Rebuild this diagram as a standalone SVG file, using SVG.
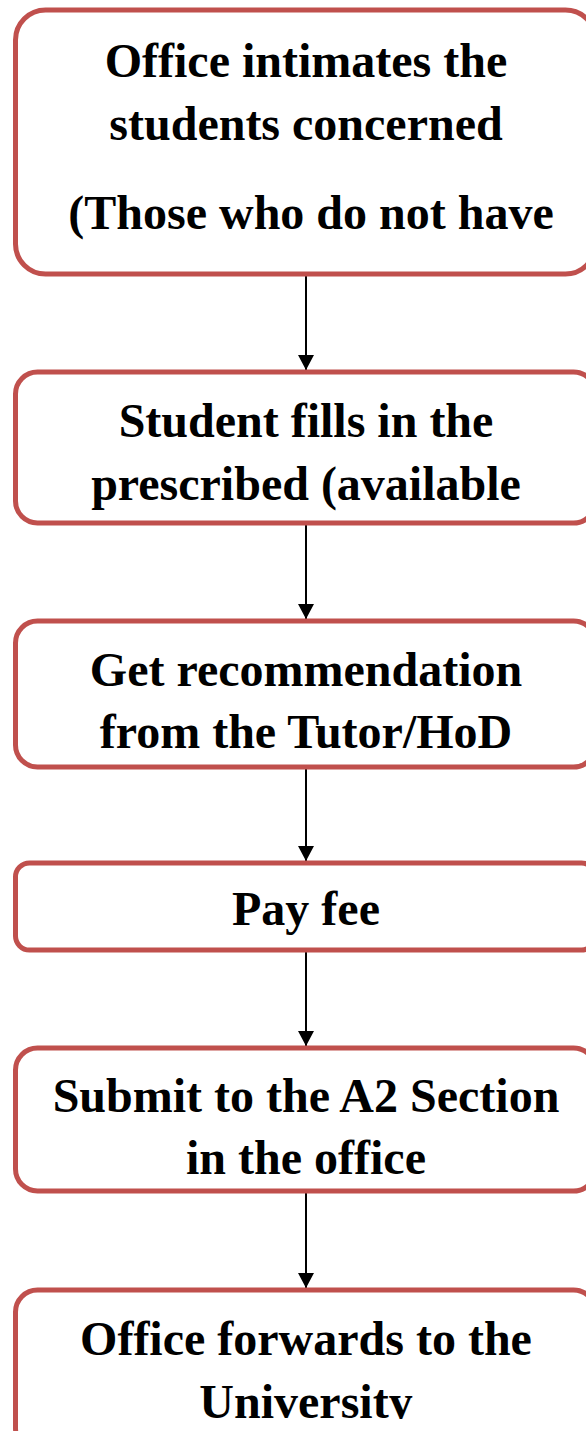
<svg xmlns="http://www.w3.org/2000/svg" width="586" height="1431" viewBox="0 0 586 1431">
  <style>
    .box { fill: #ffffff; stroke: #C0504D; stroke-width: 5; }
    .lbl { font-family: "Liberation Serif", "Times New Roman", serif; font-weight: bold; font-size: 48px; fill: #000000; text-anchor: middle; }
    .conn { stroke: #000000; stroke-width: 2; fill: none; marker-end: url(#arrow); }
  </style>
  <defs>
    <marker id="arrow" viewBox="0 0 15 16" refX="15" refY="8" markerWidth="15" markerHeight="16" markerUnits="userSpaceOnUse" orient="auto">
      <path d="M0,0 L15,8 L0,16 Z" fill="#000000"/>
    </marker>
    <clipPath id="clip6"><rect x="0" y="1290" width="586" height="129"/></clipPath>
  </defs>
  <rect width="586" height="1431" fill="#ffffff"/>

  <g id="connectors">
    <line class="conn" x1="306" y1="275" x2="306" y2="370"/>
    <line class="conn" x1="306" y1="525" x2="306" y2="619"/>
    <line class="conn" x1="306" y1="769" x2="306" y2="861"/>
    <line class="conn" x1="306" y1="952" x2="306" y2="1046"/>
    <line class="conn" x1="306" y1="1193" x2="306" y2="1288"/>
  </g>

  <g id="node1">
    <rect class="box" x="15.5" y="10" width="580" height="264" rx="30"/>
    <text class="lbl" x="306" y="77">Office intimates the</text>
    <text class="lbl" x="306" y="140">students concerned</text>
    <text class="lbl" x="311" y="229">(Those who do not have</text>
  </g>

  <g id="node2">
    <rect class="box" x="15.5" y="372" width="580" height="151" rx="22"/>
    <text class="lbl" x="306" y="437">Student fills in the</text>
    <text class="lbl" x="306" y="500">prescribed (available</text>
  </g>

  <g id="node3">
    <rect class="box" x="15.5" y="621" width="580" height="146" rx="22"/>
    <text class="lbl" x="306" y="686">Get recommendation</text>
    <text class="lbl" x="306" y="748">from the Tutor/HoD</text>
  </g>

  <g id="node4">
    <rect class="box" x="15.5" y="863" width="580" height="87" rx="14"/>
    <text class="lbl" x="306" y="925">Pay fee</text>
  </g>

  <g id="node5">
    <rect class="box" x="15.5" y="1048" width="580" height="143" rx="22"/>
    <text class="lbl" x="306" y="1112">Submit to the A2 Section</text>
    <text class="lbl" x="306" y="1174">in the office</text>
  </g>

  <g id="node6">
    <rect class="box" x="15.5" y="1290" width="580" height="160" rx="22"/>
    <g clip-path="url(#clip6)">
      <text class="lbl" x="306" y="1355">Office forwards to the</text>
      <text class="lbl" x="306" y="1418">University</text>
    </g>
  </g>
</svg>
